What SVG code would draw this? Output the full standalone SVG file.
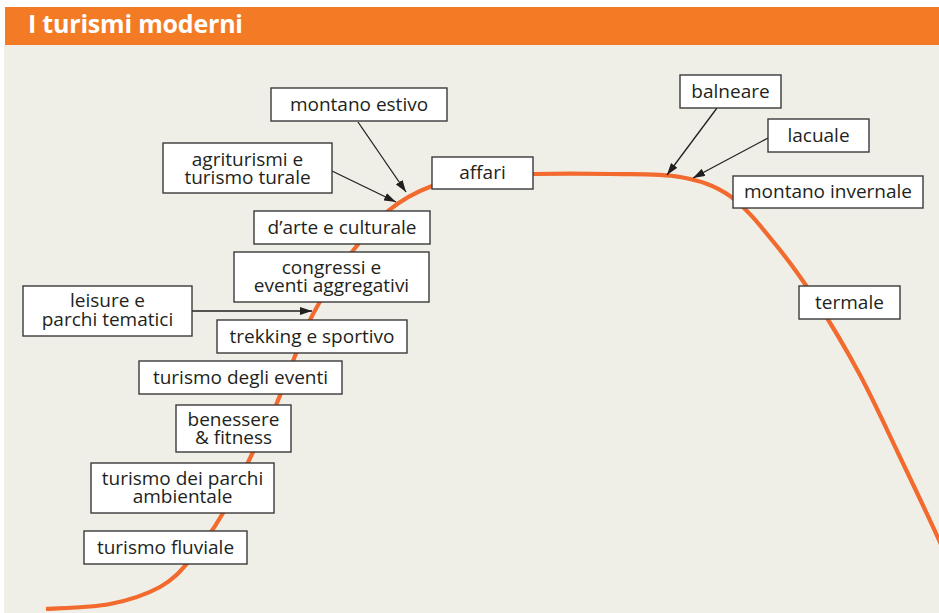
<svg xmlns="http://www.w3.org/2000/svg" width="939" height="613" viewBox="0 0 939 613">
  <style>
    .box { fill: #ffffff; stroke: #3a3a3a; stroke-width: 1.4; }
    .lbl { font-family: "Open Sans", "Noto Sans", "DejaVu Sans", sans-serif; font-size: 19px; fill: #231f20; text-anchor: middle; }
    .conn { stroke: #231f20; stroke-width: 1.3; fill: none; marker-end: url(#arrow); }
    .curve { stroke: #f26a2e; stroke-width: 4.2; fill: none; stroke-linecap: butt; }
    .title { font-family: "Open Sans", "Noto Sans", sans-serif; font-size: 25px; font-weight: bold; fill: #ffffff; }
  </style>
  <defs>
    <marker id="arrow" markerUnits="userSpaceOnUse" markerWidth="12" markerHeight="8" refX="12" refY="4" orient="auto">
      <path d="M0,0 L12,4 L0,8 z" fill="#231f20"/>
    </marker>
  </defs>

  <rect x="0" y="0" width="939" height="613" fill="#ffffff"/>
  <rect x="4" y="45" width="935" height="568" fill="#f0efe7"/>
  <g id="header">
    <rect x="5" y="7" width="934" height="38" fill="#f47b25"/>
    <text class="title" x="28" y="33" textLength="215" lengthAdjust="spacing">I turismi moderni</text>
  </g>

  <path id="curve" class="curve" d="M46,609 C56.7,608.2 91,607.7 110,604 C129,600.3 146.7,594.3 160,587 C173.3,579.7 179.5,572.3 190,560 C200.5,547.7 212.5,531 223,513 C233.5,495 244.2,470 253,452 C261.8,434 269.3,420.2 276,405 C282.7,389.8 287.3,375.2 293,361 C298.7,346.8 303.8,332.7 310,320 C316.2,307.3 323,296.3 330,285 C337,273.7 342.3,264.3 352,252 C361.7,239.7 374.7,222 388,211 C401.3,200 416.7,191.7 432,186 C447.3,180.3 463.2,179 480,177 C496.8,175 511.3,174.5 533,174 C554.7,173.5 585.5,173.5 610,174 C634.5,174.5 660,173.3 680,177 C700,180.7 714,184.7 730,196 C746,207.3 761.5,227.3 776,245 C790.5,262.7 803,280.3 817,302 C831,323.7 846.3,349.5 860,375 C873.7,400.5 885.8,427.5 899,455 C912.2,482.5 929.2,518.3 939,540 C948.8,561.7 954.8,577.5 958,585"/>

  <g id="connectors">
    <line class="conn" x1="358" y1="122" x2="406" y2="192"/>
    <line class="conn" x1="332" y1="171" x2="396" y2="202"/>
    <line class="conn" x1="192" y1="311" x2="312" y2="311"/>
    <line class="conn" x1="717" y1="108" x2="667" y2="175"/>
    <line class="conn" x1="768" y1="138" x2="693" y2="178"/>
  </g>

  <g id="montano-estivo">
    <rect class="box" x="271" y="88" width="176" height="33"/>
    <text class="lbl" x="359" y="111">montano estivo</text>
  </g>
  <g id="agriturismi">
    <rect class="box" x="163" y="143" width="169" height="50"/>
    <text class="lbl" x="247.5" y="165.5">agriturismi e<tspan x="247.5" dy="18">turismo turale</tspan></text>
  </g>
  <g id="affari">
    <rect class="box" x="432" y="157" width="101" height="32"/>
    <text class="lbl" x="482.5" y="179">affari</text>
  </g>
  <g id="arte-culturale">
    <rect class="box" x="254" y="211" width="176" height="33"/>
    <text class="lbl" x="342" y="233.5">d’arte e culturale</text>
  </g>
  <g id="congressi">
    <rect class="box" x="234" y="252" width="195" height="50"/>
    <text class="lbl" x="331.5" y="274">congressi e<tspan x="331.5" dy="18">eventi aggregativi</tspan></text>
  </g>
  <g id="leisure">
    <rect class="box" x="23" y="286" width="169" height="50"/>
    <text class="lbl" x="107.5" y="307">leisure e<tspan x="107.5" dy="19">parchi tematici</tspan></text>
  </g>
  <g id="trekking">
    <rect class="box" x="217" y="320" width="190" height="33"/>
    <text class="lbl" x="312" y="342.5">trekking e sportivo</text>
  </g>
  <g id="eventi">
    <rect class="box" x="139" y="361" width="203" height="33"/>
    <text class="lbl" x="240.5" y="383.5">turismo degli eventi</text>
  </g>
  <g id="benessere">
    <rect class="box" x="176" y="405" width="115" height="47"/>
    <text class="lbl" x="233.5" y="426">benessere<tspan x="233.5" dy="18">&amp; fitness</tspan></text>
  </g>
  <g id="parchi-ambientale">
    <rect class="box" x="91" y="463" width="183" height="50"/>
    <text class="lbl" x="182.5" y="485">turismo dei parchi<tspan x="182.5" dy="18">ambientale</tspan></text>
  </g>
  <g id="fluviale">
    <rect class="box" x="84" y="531" width="163" height="33"/>
    <text class="lbl" x="165.5" y="553.5">turismo fluviale</text>
  </g>
  <g id="balneare">
    <rect class="box" x="680" y="75" width="101" height="33"/>
    <text class="lbl" x="730.5" y="97.5">balneare</text>
  </g>
  <g id="lacuale">
    <rect class="box" x="768" y="119" width="101" height="33"/>
    <text class="lbl" x="818.5" y="141.5">lacuale</text>
  </g>
  <g id="montano-invernale">
    <rect class="box" x="733" y="176" width="190" height="32"/>
    <text class="lbl" x="828" y="198">montano invernale</text>
  </g>
  <g id="termale">
    <rect class="box" x="799" y="286" width="101" height="33"/>
    <text class="lbl" x="849.5" y="308.5">termale</text>
  </g>
</svg>
